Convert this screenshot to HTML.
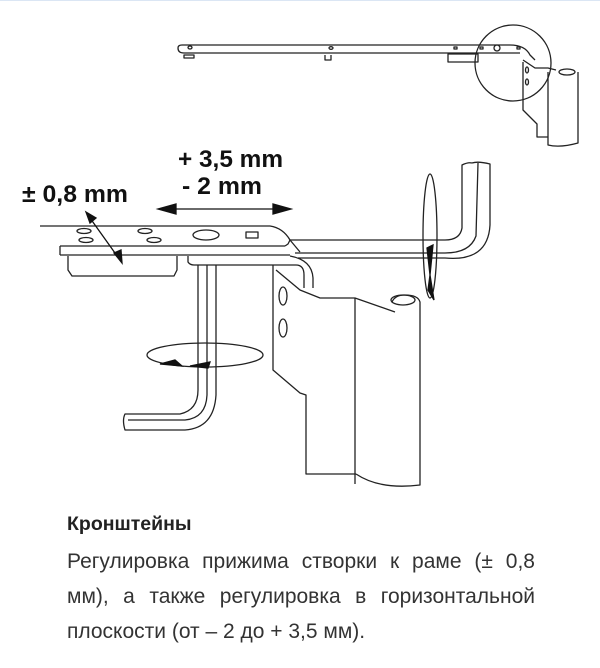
<!DOCTYPE html>
<html><head><meta charset="utf-8"><style>
html,body{margin:0;padding:0;background:#fff;width:600px;height:668px;overflow:hidden;position:relative;font-family:"Liberation Sans",Arial,sans-serif}
.top{position:absolute;left:0;top:0;width:600px;height:1px;background:#dbe6f4}
svg{position:absolute;left:0;top:0}
.h{position:absolute;left:67px;top:513px;font-weight:bold;font-size:19.5px;color:#222}
.l{position:absolute;left:67px;width:468px;font-size:21px;line-height:24px;color:#333;text-align:justify;text-align-last:justify;white-space:nowrap}
.l3{text-align-last:left}
</style></head><body>
<div class="top"></div>
<svg width="600" height="668" viewBox="0 0 600 668" fill="none" stroke="#222" stroke-width="1.3" stroke-linejoin="round">
<path d="M182 45 H510 Q525 45 530 55 L535 60"/>
<path d="M178 48 Q178 53 184 53 H520"/>
<path d="M178 48 Q178 45 182 45"/>
<ellipse cx="190" cy="47.5" rx="2" ry="1.5"/><ellipse cx="331" cy="48" rx="2" ry="1.3"/>
<path d="M184 55 h10 v3 h-10 z"/>
<path d="M325 55 v5 h6 v-5"/>
<path d="M448 54 h30 v8 h-30 z"/>
<circle cx="497" cy="48" r="3"/><rect x="454" y="47" width="3" height="2"/><rect x="480" y="47" width="3" height="2"/><rect x="517" y="47" width="3" height="2"/>
<circle cx="513" cy="63" r="38"/>
<path d="M523 60 L535 68 H548 L556 70"/>
<path d="M523 62 V110 L537 124 V137 H548"/>
<path d="M548 72 V145 Q560 148 578 143 V72"/>
<ellipse cx="567" cy="72" rx="8" ry="3"/>
<ellipse cx="527" cy="70" rx="1.5" ry="3"/><ellipse cx="527" cy="82" rx="1.5" ry="3"/>
<path d="M40 226 H270 Q283 228 290 240"/>
<path d="M60 246 H285"/>
<path d="M60 255 H290"/>
<path d="M60 246 V255"/>
<path d="M68 256 V270 L72 276 H174 L177 270 V256"/>
<path d="M285 246 L288 244 L290 240 L300 252"/>
<path d="M290 240 H445 Q460 240 462 228 V165 Q468 162 472 163"/>
<path d="M295 253 H445 Q470 253 476 236 L478 163"/>
<path d="M472 163 Q478 161 490 164 V225 Q488 262 445 258 H298"/>
<ellipse cx="84" cy="231" rx="7" ry="2.5"/><ellipse cx="86" cy="240" rx="7" ry="2.5"/>
<ellipse cx="145" cy="231" rx="7" ry="2.5"/><ellipse cx="154" cy="240" rx="7" ry="2.5"/>
<ellipse cx="206" cy="235" rx="13" ry="5"/>
<path d="M246 232 h12 v6 h-12 z"/>
<path d="M188 256 V262 Q190 265 194 265 H296 Q304 265 304 275 V288"/>
<path d="M290 256 Q312 260 313 278 V288"/>
<path d="M198 265 V390 Q198 410 180 414 H125 Q122 420 125 430 L185 430 Q214 428 216 395 V265"/>
<path d="M207 265 V395 Q206 418 185 420 H128"/>
<path d="M273 265 V370 L300 393 L306 395 V474 H356"/>
<path d="M276 270 L300 290 L320 298 H355 L395 312"/>
<path d="M355 298 V484"/>
<path d="M356 474 Q380 490 420 485 V302 Q418 295 405 295 Q395 295 392 302"/>
<ellipse cx="403" cy="300" rx="12" ry="5"/>
<ellipse cx="283" cy="296" rx="4" ry="9"/><ellipse cx="283" cy="328" rx="4" ry="9"/>
<ellipse cx="205" cy="355" rx="58" ry="12"/>
<ellipse cx="430" cy="236" rx="7" ry="62"/>
</svg>
<svg width="600" height="668" viewBox="0 0 600 668" fill="#111" stroke="#111" stroke-width="1.3">
<line x1="170" y1="209" x2="280" y2="209"/>
<path d="M158 209 L176 204 L176 214 Z"/><path d="M291 209 L273 204 L273 214 Z"/>
<line x1="90" y1="218" x2="120" y2="260"/>
<path d="M86 212 L96 218 L90 223 Z"/><path d="M122 263 L114 253 L121 250 Z"/>
<path d="M160 364 L175 360 L182 366 Z"/><path d="M190 366 L210 362 L208 368 Z"/>
<path d="M427 248 L433 245 L430 275 Z"/><path d="M430 275 L434 300 L428 290 Z"/>
<g font-family="Liberation Sans,Arial,sans-serif" font-weight="bold" font-size="24" stroke="none">
<text x="178" y="167" textLength="105" lengthAdjust="spacingAndGlyphs">+ 3,5 mm</text>
<text x="182" y="194" textLength="80" lengthAdjust="spacingAndGlyphs">- 2 mm</text>
<text x="22" y="202" textLength="106" lengthAdjust="spacingAndGlyphs">± 0,8 mm</text>
</g>
</svg>
<div class="h">Кронштейны</div>
<div class="l" style="top:550px">Регулировка прижима створки к раме (± 0,8</div>
<div class="l" style="top:585px">мм), а также регулировка в горизонтальной</div>
<div class="l l3" style="top:620px">плоскости (от – 2 до + 3,5 мм).</div>
</body></html>
